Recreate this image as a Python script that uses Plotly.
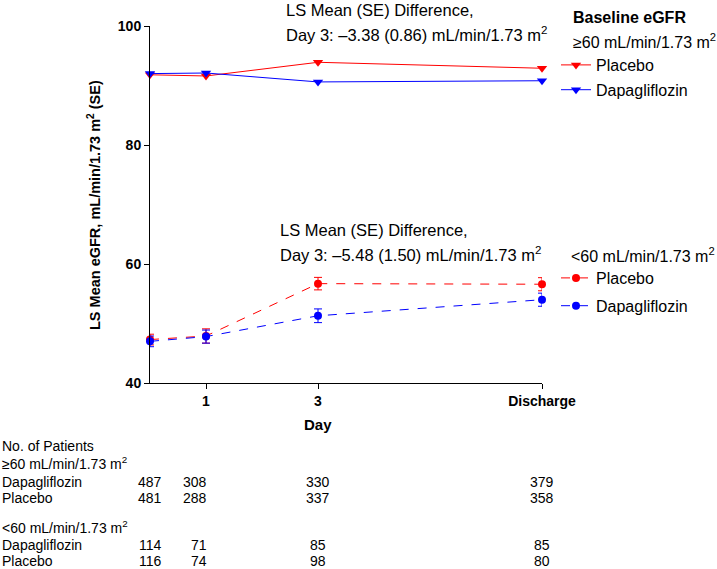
import plotly.graph_objects as go

# ---------------- data ----------------
days = [0, 1, 3, 7]
tick_vals = [1, 3, 7]
tick_text = ["1", "3", "Discharge"]

placebo_hi = [91.8, 91.6, 93.9, 92.9]
dapa_hi = [92.0, 92.1, 90.6, 90.8]

placebo_lo = [47.3, 47.9, 56.7, 56.6]
placebo_lo_se = [0.9, 1.2, 1.05, 1.1]
dapa_lo = [47.0, 47.8, 51.3, 54.0]
dapa_lo_se = [0.9, 1.1, 1.15, 1.1]

n_hi_dapa = [487, 308, 330, 379]
n_hi_pla = [481, 288, 337, 358]
n_lo_dapa = [114, 71, 85, 85]
n_lo_pla = [116, 74, 98, 80]

diff_hi = "Day 3: \u20133.38 (0.86) mL/min/1.73 m<sup>2</sup>"
diff_lo = "Day 3: \u20135.48 (1.50) mL/min/1.73 m<sup>2</sup>"

# ---------------- layout helpers ----------------
W, H = 717, 569
FONT = "Liberation Sans, Arial, Helvetica, sans-serif"
RED = "#ff0000"
BLUE = "#0000ff"


def fx(p):
    return p / W


def fy(p):
    return 1 - p / H


fig = go.Figure()

fig.add_trace(go.Scatter(
    x=days, y=placebo_hi, name="Placebo", mode="lines+markers",
    line=dict(color=RED, width=1),
    marker=dict(symbol="triangle-down", size=9, color=RED),
    cliponaxis=False, legend="legend", legendgroup="a",
))
fig.add_trace(go.Scatter(
    x=days, y=dapa_hi, name="Dapagliflozin", mode="lines+markers",
    line=dict(color=BLUE, width=1),
    marker=dict(symbol="triangle-down", size=9, color=BLUE),
    cliponaxis=False, legend="legend", legendgroup="b",
))
fig.add_trace(go.Scatter(
    x=days, y=placebo_lo, name="Placebo", mode="lines+markers",
    line=dict(color=RED, width=1, dash="dash"),
    marker=dict(symbol="circle", size=8, color=RED),
    error_y=dict(type="data", array=placebo_lo_se, color=RED, thickness=1, width=4),
    cliponaxis=False, legend="legend2", legendgroup="c",
))
fig.add_trace(go.Scatter(
    x=days, y=dapa_lo, name="Dapagliflozin", mode="lines+markers",
    line=dict(color=BLUE, width=1, dash="dash"),
    marker=dict(symbol="circle", size=8, color=BLUE),
    error_y=dict(type="data", array=dapa_lo_se, color=BLUE, thickness=1, width=4),
    cliponaxis=False, legend="legend2", legendgroup="d",
))

annotations = []

# axis titles
annotations.append(dict(
    text="<b>LS Mean eGFR, mL/min/1.73 m<sup>2</sup> (SE)</b>",
    xref="paper", yref="paper", x=fx(94), y=fy(205), textangle=-90,
    showarrow=False, font=dict(size=14.5, color="black"), xanchor="center", yanchor="middle"))
annotations.append(dict(
    text="<b>Day</b>", xref="paper", yref="paper", x=fx(318), y=fy(424),
    showarrow=False, font=dict(size=15, color="black"), xanchor="center", yanchor="middle"))

# legend headings
annotations.append(dict(
    text="<b>Baseline eGFR</b>", xref="paper", yref="paper", x=fx(571), y=fy(18),
    showarrow=False, xanchor="left", yanchor="middle", font=dict(size=16, color="black")))
annotations.append(dict(
    text="\u226560 mL/min/1.73 m<sup>2</sup>", xref="paper", yref="paper", x=fx(571), y=fy(41),
    showarrow=False, xanchor="left", yanchor="middle", font=dict(size=16, color="black")))
annotations.append(dict(
    text="<60 mL/min/1.73 m<sup>2</sup>", xref="paper", yref="paper", x=fx(569), y=fy(255),
    showarrow=False, xanchor="left", yanchor="middle", font=dict(size=16, color="black")))

# difference texts
for txt_x, txt_y, second in [(284, 10, diff_hi), (278, 230, diff_lo)]:
    annotations.append(dict(
        text="LS Mean (SE) Difference,", xref="paper", yref="paper",
        x=fx(txt_x), y=fy(txt_y), showarrow=False, xanchor="left", yanchor="middle",
        font=dict(size=16.5, color="black")))
    annotations.append(dict(
        text=second, xref="paper", yref="paper",
        x=fx(txt_x), y=fy(txt_y + 24), showarrow=False, xanchor="left", yanchor="middle",
        font=dict(size=16.5, color="black")))

# number at risk table
label_rows = [
    ("No. of Patients", 446),
    ("\u226560 mL/min/1.73 m<sup>2</sup>", 463),
    ("Dapagliflozin", 482),
    ("Placebo", 498),
    ("<60 mL/min/1.73 m<sup>2</sup>", 527),
    ("Dapagliflozin", 545),
    ("Placebo", 561),
]
for txt, yy in label_rows:
    annotations.append(dict(
        text=txt, xref="paper", yref="paper", x=0, y=fy(yy),
        showarrow=False, xanchor="left", yanchor="middle",
        font=dict(size=14, color="black")))

for counts, yy in [(n_hi_dapa, 482), (n_hi_pla, 498), (n_lo_dapa, 545), (n_lo_pla, 561)]:
    for i, (d, n) in enumerate(zip(days, counts)):
        if i == 1:
            anchor, shift = "right", 3
        else:
            anchor, shift = "center", 0
        annotations.append(dict(
            text=str(n), xref="x", yref="paper", x=d, y=fy(yy),
            showarrow=False, xanchor=anchor, xshift=shift, yanchor="middle",
            font=dict(size=14, color="black")))

fig.update_layout(
    width=W, height=H,
    margin=dict(l=0, r=0, t=0, b=0),
    paper_bgcolor="white", plot_bgcolor="white",
    font=dict(family=FONT, size=14, color="black"),
    showlegend=True,
    xaxis=dict(
        domain=[fx(150), fx(542)], range=[0, 7],
        tickvals=tick_vals, ticktext=tick_text,
        showline=True, linecolor="black", linewidth=1,
        ticks="outside", ticklen=5, tickcolor="black", tickwidth=1,
        tickfont=dict(size=14, weight="bold", color="black"),
        showgrid=False, zeroline=False, automargin=False,
    ),
    yaxis=dict(
        domain=[fy(383), fy(26)], range=[40, 100],
        tickvals=[40, 60, 80, 100],
        showline=True, linecolor="black", linewidth=1,
        ticks="outside", ticklen=5, tickcolor="black", tickwidth=1,
        tickfont=dict(size=14, weight="bold", color="black"),
        showgrid=False, zeroline=False, automargin=False,
    ),
    legend=dict(
        x=fx(556), y=fy(48), xanchor="left", yanchor="top",
        font=dict(size=16, color="black"), tracegroupgap=1,
        bgcolor="rgba(0,0,0,0)", borderwidth=0, itemwidth=30,
    ),
    legend2=dict(
        x=fx(556), y=fy(261), xanchor="left", yanchor="top",
        font=dict(size=16, color="black"), tracegroupgap=4,
        bgcolor="rgba(0,0,0,0)", borderwidth=0, itemwidth=30,
    ),
    annotations=annotations,
)

fig.write_html(
    "out.html",
    config={"displayModeBar": False},
    post_script="document.body.style.margin='0';document.body.style.padding='0';"
                "document.body.style.overflow='hidden';",
)
